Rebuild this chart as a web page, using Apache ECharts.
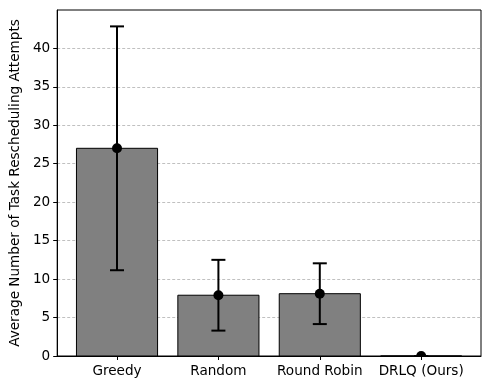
<!DOCTYPE html>
<html>
<head>
<meta charset="utf-8">
<script src="https://cdn.jsdelivr.net/npm/echarts@6/dist/echarts.min.js"></script>
<style>
  html, body { margin: 0; padding: 0; background: #fff; }
  #chart { width: 490px; height: 390px; }
</style>
</head>
<body>
<div id="chart"></div>
<script>
const categories = ["Greedy", "Random", "Round Robin", "DRLQ (Ours)"];
const meanValues = [27.0, 7.9, 8.1, 0.0];
const errValues = [15.85, 4.6, 3.95, 0.0];
const yTicks = [0, 5, 10, 15, 20, 25, 30, 35, 40];

const font = "DejaVu Sans";
const fs = 13.6;
let chart = echarts.init(document.getElementById("chart"));

const barData = meanValues.map((v, i) => [i, v]);
const errData = meanValues.map((v, i) => [i, v - errValues[i], v + errValues[i]]);
const xPos = categories.map((c, i) => i);

let option = {
  animation: false,
  grid: {
    left: 57,
    right: 9,
    top: 10,
    bottom: 34,
    show: true,
    borderColor: "#000",
    borderWidth: 1,
  },
  xAxis: {
    type: "value",
    min: -0.59,
    max: 3.59,
    splitLine: { show: false },
    axisLine: { show: true, onZero: false, lineStyle: { color: "#000", width: 1 } },
    axisTick: {
      show: true,
      customValues: xPos,
      length: 4,
      lineStyle: { color: "#000" },
    },
    axisLabel: {
      customValues: xPos,
      formatter: (v) => categories[Math.round(v)],
      color: "#000",
      fontFamily: font,
      fontSize: fs,
      margin: 8,
    },
  },
  yAxis: {
    type: "value",
    min: 0,
    max: 44.98,
    interval: 5,
    name: "Average Number of Task Rescheduling Attempts",
    nameLocation: "middle",
    nameGap: 34,
    nameTextStyle: { color: "#000", fontFamily: font, fontSize: fs },
    axisLine: { show: true, onZero: false, lineStyle: { color: "#000", width: 1 } },
    axisTick: { show: true, customValues: yTicks, length: 4, lineStyle: { color: "#000" } },
    axisLabel: {
      customValues: yTicks,
      color: "#000",
      fontFamily: font,
      fontSize: fs,
      margin: 7,
    },
    splitLine: {
      show: true,
      lineStyle: { color: "#b0b0b0", type: [3, 2], width: 0.8 },
    },
  },
  series: [
    {
      type: "custom",
      data: barData,
      renderItem: (params, api) => {
        const x = api.value(0);
        const v = api.value(1);
        const top = api.coord([x, v]);
        const base = api.coord([x, 0]);
        const w = api.size([0.8, 0])[0];
        return {
          type: "rect",
          shape: { x: top[0] - w / 2, y: top[1], width: w, height: base[1] - top[1] },
          style: { fill: "#808080", stroke: "#000", lineWidth: 1 },
        };
      },
      z: 2,
    },
    {
      type: "custom",
      data: errData,
      encode: { x: 0, y: [1, 2] },
      renderItem: (params, api) => {
        const x = api.value(0);
        const lo = api.coord([x, api.value(1)]);
        const hi = api.coord([x, api.value(2)]);
        const cap = 7;
        const st = { stroke: "#000", lineWidth: 2 };
        return {
          type: "group",
          children: [
            { type: "line", shape: { x1: lo[0], y1: lo[1], x2: hi[0], y2: hi[1] }, style: st },
            { type: "line", shape: { x1: hi[0] - cap, y1: hi[1], x2: hi[0] + cap, y2: hi[1] }, style: st },
            { type: "line", shape: { x1: lo[0] - cap, y1: lo[1], x2: lo[0] + cap, y2: lo[1] }, style: st },
          ],
        };
      },
      z: 3,
    },
    {
      type: "custom",
      data: barData,
      renderItem: (params, api) => {
        const p = api.coord([api.value(0), api.value(1)]);
        const cs = params.coordSys;
        return {
          type: "group",
          clipPath: { type: "rect", shape: { x: cs.x, y: cs.y, width: cs.width, height: cs.height } },
          children: [
            { type: "circle", shape: { cx: p[0], cy: p[1], r: 5 }, style: { fill: "#000" } },
          ],
        };
      },
      z: 4,
    },
  ],
};
chart.setOption(option);
</script>
</body>
</html>
